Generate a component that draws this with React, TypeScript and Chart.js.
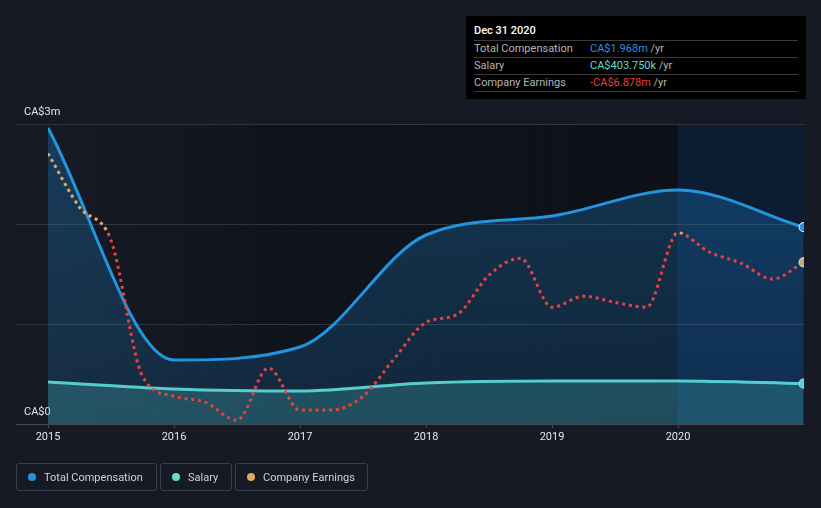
import React, { useEffect, useRef } from "react";
import { Chart, registerables } from "chart.js";

Chart.register(...registerables);

// ---- Data ----
const compDates = [2015, 2016, 2017, 2018, 2019, 2020, 2020.997];
const compValues = [2.96, 0.64, 0.77, 1.89, 2.08, 2.34, 1.968]; // CA$ m
const salaryValues = [0.42, 0.35, 0.33, 0.41, 0.43, 0.43, 0.40375]; // CA$ m

const earningsDates = [
  2015, 2015.25, 2015.5, 2015.75, 2016, 2016.25, 2016.5, 2016.75, 2017, 2017.25,
  2017.5, 2017.75, 2018, 2018.25, 2018.5, 2018.75, 2019, 2019.25, 2019.5, 2019.75,
  2020, 2020.25, 2020.5, 2020.75, 2020.997,
];
const earningsValues = [
  19.8, 6.6, -1.5, -34.8, -39.7, -41.2, -45.6, -32.8, -43.1, -43.1,
  -39.7, -30.4, -21.6, -19.6, -10.0, -5.9, -17.9, -15.2, -16.7, -17.9,
  0.3, -4.4, -7.1, -11.0, -6.878,
]; // CA$ m

const xTicks = [2015, 2016, 2017, 2018, 2019, 2020];
const yGridValues = [0, 1, 2, 3];
const yLabelValues = [0, 3];
const yLabels = ["CA$0", "CA$3m"];
const highlightStart = 2020;

const FONT = "Roboto, 'Open Sans', 'DejaVu Sans', sans-serif";
const BLUE = "#2394df";
const TEAL = "#62dccb";
const ORANGE = "#e4ab5c";
const RED = "#e8413f";

const bgPlugin = {
  id: "bgPlugin",
  beforeDatasetsDraw(chart: any) {
    const { ctx, chartArea, scales } = chart;
    const { left, right, top, bottom } = chartArea;
    ctx.save();
    const g = ctx.createLinearGradient(left, 0, right, 0);
    g.addColorStop(0, "rgb(21,26,36)");
    g.addColorStop(0.35, "rgb(15,19,27)");
    g.addColorStop(1, "rgb(13,16,23)");
    ctx.fillStyle = g;
    ctx.fillRect(left, top, right - left, bottom - top);
    // highlighted region
    const hx = scales.x.getPixelForValue(highlightStart);
    ctx.fillStyle = "rgba(10,55,115,0.30)";
    ctx.fillRect(hx, top, right - hx, bottom - top);
    ctx.fillStyle = "rgba(120,160,210,0.05)";
    ctx.fillRect(hx, top, 1, bottom - top);
    // grid lines
    yGridValues.forEach((v) => {
      const y = Math.round(scales.y.getPixelForValue(v)) + 0.5;
      ctx.strokeStyle = v === 0 ? "#454b55" : "#30353f";
      ctx.lineWidth = 1;
      ctx.beginPath();
      ctx.moveTo(16, y);
      ctx.lineTo(right, y);
      ctx.stroke();
    });
    // y labels
    ctx.fillStyle = "#e6e6e6";
    ctx.font = `11px ${FONT}`;
    ctx.textBaseline = "middle";
    ctx.textAlign = "left";
    yLabelValues.forEach((v, i) => {
      const y = scales.y.getPixelForValue(v);
      ctx.fillText(yLabels[i], 24, y - 12);
    });
    ctx.restore();
  },
};

function earningsGradient(context: any) {
  const chart = context.chart;
  const { chartArea, scales } = chart;
  if (!chartArea) return RED;
  const y0 = scales.y2.getPixelForValue(0);
  const f = Math.min(1, Math.max(0, (y0 - chartArea.top) / (chartArea.bottom - chartArea.top)));
  const g = chart.ctx.createLinearGradient(0, chartArea.top, 0, chartArea.bottom);
  g.addColorStop(0, ORANGE);
  g.addColorStop(f, ORANGE);
  g.addColorStop(f, RED);
  g.addColorStop(1, RED);
  return g;
}

function compFill(context: any) {
  const chart = context.chart;
  const { chartArea } = chart;
  if (!chartArea) return "rgba(30,140,220,0.25)";
  const g = chart.ctx.createLinearGradient(0, chartArea.top, 0, chartArea.bottom);
  g.addColorStop(0, "rgba(30,140,220,0.30)");
  g.addColorStop(1, "rgba(30,140,220,0.16)");
  return g;
}

const lastRadius = (n: number) => (ctx: any) => (ctx.dataIndex === n - 1 ? 4.5 : 0);

export default function App() {
  const ref = useRef<HTMLCanvasElement | null>(null);

  useEffect(() => {
    document.body.style.margin = "0";
    if (!ref.current) return;
    const chart = new Chart(ref.current, {
      type: "line",
      data: {
        datasets: [
          {
            label: "Company Earnings",
            data: earningsDates.map((x, i) => ({ x, y: earningsValues[i] })),
            yAxisID: "y2",
            borderColor: earningsGradient,
            borderWidth: 3,
            borderDash: [3, 3.8],
            fill: false,
            cubicInterpolationMode: "monotone",
            pointRadius: lastRadius(earningsDates.length),
            pointBackgroundColor: "#c7a77a",
            pointBorderColor: "#d5dbe3",
            pointBorderWidth: 1.2,
            order: 0,
          },
          {
            label: "Total Compensation",
            data: compDates.map((x, i) => ({ x, y: compValues[i] })),
            yAxisID: "y",
            borderColor: BLUE,
            borderWidth: 3,
            backgroundColor: compFill,
            fill: "origin",
            cubicInterpolationMode: "monotone",
            pointRadius: lastRadius(compDates.length),
            pointBackgroundColor: BLUE,
            pointBorderColor: "#d5dbe3",
            pointBorderWidth: 1.2,
            order: 1,
          },
          {
            label: "Salary",
            data: compDates.map((x, i) => ({ x, y: salaryValues[i] })),
            yAxisID: "y",
            borderColor: TEAL,
            borderWidth: 3,
            backgroundColor: "rgba(85,205,192,0.26)",
            fill: "origin",
            cubicInterpolationMode: "monotone",
            pointRadius: lastRadius(compDates.length),
            pointBackgroundColor: TEAL,
            pointBorderColor: "#d5dbe3",
            pointBorderWidth: 1.2,
            order: 2,
          },
        ],
      },
      options: {
        animation: false,
        responsive: false,
        maintainAspectRatio: false,
        layout: { padding: { left: 48, right: 17, top: 124, bottom: 54 } },
        plugins: { legend: { display: false }, tooltip: { enabled: false } },
        scales: {
          x: {
            type: "linear",
            min: 2015,
            max: 2021,
            afterBuildTicks: (scale: any) => {
              scale.ticks = xTicks.map((v) => ({ value: v }));
            },
            afterFit: (scale: any) => {
              scale.height = 30;
            },
            grid: { drawOnChartArea: false, drawTicks: true, tickLength: 4, color: "#454b55" },
            border: { display: false },
            ticks: {
              autoSkip: false,
              maxRotation: 0,
              padding: 3,
              color: "#e6e6e6",
              font: { family: FONT, size: 11 },
              callback: (v: any) => String(v),
            },
          },
          y: { display: false, min: 0, max: 3 },
          y2: { display: false, min: -46.5, max: 27 },
        },
      } as any,
      plugins: [bgPlugin],
    });
    return () => chart.destroy();
  }, []);

  const rowStyle: React.CSSProperties = {
    position: "absolute",
    left: 8,
    width: 324,
    height: 17,
    borderBottom: "1px solid #3a3a3a",
    fontSize: 11,
    lineHeight: "17px",
    color: "#b5b5b5",
    whiteSpace: "nowrap",
  };
  const valStyle: React.CSSProperties = { position: "absolute", left: 116 };

  const legendItem = (left: number, width: number, color: string, text: string) => (
    <div
      key={text}
      style={{
        position: "absolute",
        left,
        top: 463,
        width,
        height: 28,
        border: "1px solid #3a404b",
        borderRadius: 3,
        boxSizing: "border-box",
      }}
    >
      <div
        style={{
          position: "absolute",
          left: 11,
          top: 9,
          width: 8,
          height: 8,
          borderRadius: 4,
          background: color,
        }}
      />
      <div
        style={{
          position: "absolute",
          left: 27,
          top: 0,
          lineHeight: "27px",
          fontSize: 11,
          color: "#d2d2d2",
          whiteSpace: "nowrap",
        }}
      >
        {text}
      </div>
    </div>
  );

  return (
    <div
      style={{
        position: "absolute",
        left: 0,
        top: 0,
        width: 821,
        height: 508,
        background: "#151a24",
        fontFamily: FONT,
        overflow: "hidden",
      }}
    >
      <canvas ref={ref} width={821} height={508} style={{ position: "absolute", left: 0, top: 0 }} />
      <div
        style={{
          position: "absolute",
          left: 466,
          top: 16,
          width: 340,
          height: 83,
          background: "#000000",
        }}
      >
        <div
          style={{
            position: "absolute",
            left: 8,
            top: 7,
            fontSize: 11,
            fontWeight: 500,
            color: "#ffffff",
            lineHeight: "16px",
            width: 324,
            height: 17,
            borderBottom: "1px solid #3a3a3a",
          }}
        >
          Dec 31 2020
        </div>
        <div style={{ ...rowStyle, top: 24 }}>
          Total Compensation
          <span style={valStyle}>
            <span style={{ color: BLUE }}>CA$1.968m</span> /yr
          </span>
        </div>
        <div style={{ ...rowStyle, top: 41 }}>
          Salary
          <span style={valStyle}>
            <span style={{ color: TEAL }}>CA$403.750k</span> /yr
          </span>
        </div>
        <div style={{ ...rowStyle, top: 58 }}>
          Company Earnings
          <span style={valStyle}>
            <span style={{ color: RED }}>-CA$6.878m</span> /yr
          </span>
        </div>
      </div>
      {legendItem(16, 141, BLUE, "Total Compensation")}
      {legendItem(160, 72, TEAL, "Salary")}
      {legendItem(235, 133, ORANGE, "Company Earnings")}
    </div>
  );
}
